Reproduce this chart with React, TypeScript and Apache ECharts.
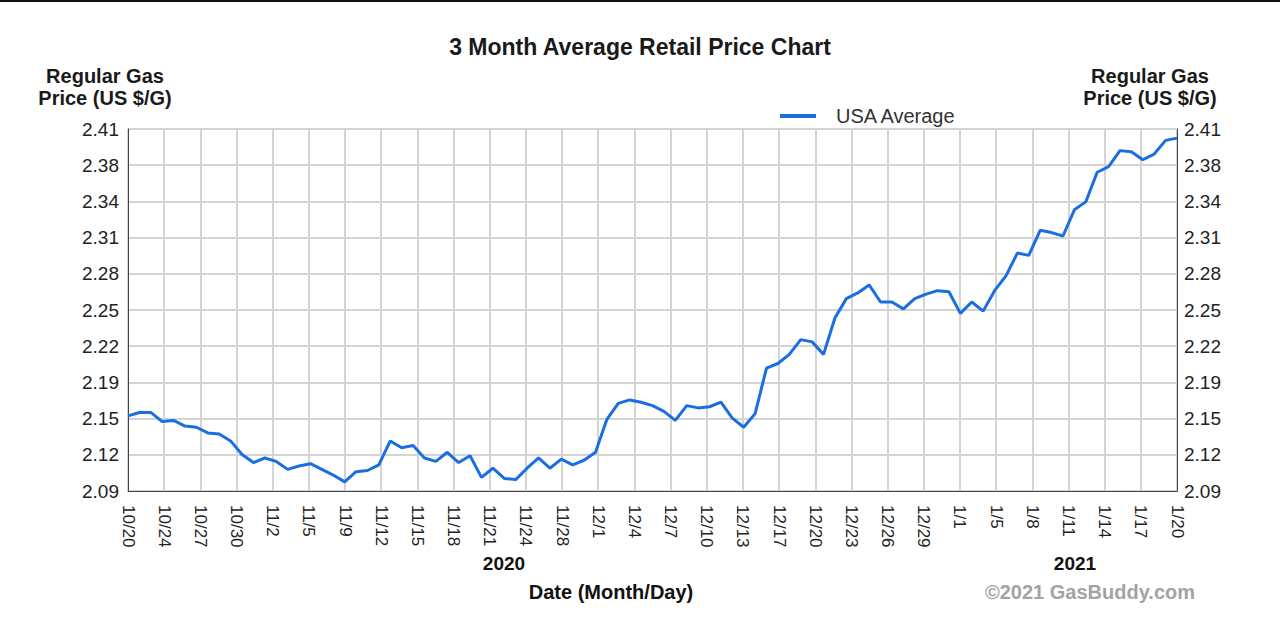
import { useEffect, useRef } from "react";
import * as echarts from "echarts";

const dates = [
  "10/20","10/21","10/22","10/23","10/24","10/25","10/26","10/27","10/28","10/29","10/30","10/31",
  "11/1","11/2","11/3","11/4","11/5","11/6","11/7","11/8","11/9","11/10","11/11","11/12","11/13","11/14","11/15",
  "11/16","11/17","11/18","11/19","11/20","11/21","11/22","11/23","11/24","11/25","11/26","11/27","11/28","11/29","11/30",
  "12/1","12/2","12/3","12/4","12/5","12/6","12/7","12/8","12/9","12/10","12/11","12/12","12/13","12/14","12/15",
  "12/16","12/17","12/18","12/19","12/20","12/21","12/22","12/23","12/24","12/25","12/26","12/27","12/28","12/29","12/30","12/31",
  "1/1","1/2","1/3","1/4","1/5","1/6","1/7","1/8","1/9","1/10","1/11","1/12","1/13","1/14","1/15","1/16","1/17","1/18","1/19","1/20",
];

const usaAverage = [
  2.156, 2.159, 2.159, 2.151, 2.152, 2.147, 2.146, 2.141, 2.140, 2.134, 2.122, 2.115,
  2.119, 2.116, 2.109, 2.112, 2.114, 2.109, 2.104, 2.098, 2.107, 2.108, 2.113, 2.134, 2.128, 2.130,
  2.119, 2.116, 2.124, 2.115, 2.121, 2.102, 2.110, 2.101, 2.100, 2.110, 2.119, 2.110, 2.118, 2.113, 2.117,
  2.124, 2.153, 2.167, 2.170, 2.168, 2.165, 2.160, 2.152, 2.165, 2.163, 2.164, 2.168, 2.154, 2.146, 2.158,
  2.198, 2.202, 2.210, 2.223, 2.221, 2.210, 2.242, 2.259, 2.264, 2.271, 2.256, 2.256, 2.250, 2.259, 2.263, 2.266, 2.265,
  2.246, 2.256, 2.248, 2.266, 2.279, 2.299, 2.297, 2.319, 2.317, 2.314, 2.337, 2.344, 2.370, 2.375, 2.389, 2.388, 2.381, 2.386, 2.398, 2.400,
];

const xTickLabels = [
  "10/20","10/24","10/27","10/30","11/2","11/5","11/9","11/12","11/15","11/18","11/21","11/24","11/28",
  "12/1","12/4","12/7","12/10","12/13","12/17","12/20","12/23","12/26","12/29",
  "1/1","1/5","1/8","1/11","1/14","1/17","1/20",
];

const yTicks = [2.09, 2.1218, 2.1536, 2.1854, 2.2172, 2.249, 2.2808, 2.3126, 2.3444, 2.3762, 2.408];

const FONT = "'Liberation Sans', Arial, sans-serif";

export default function App() {
  const ref = useRef<HTMLDivElement>(null);
  useEffect(() => {
    if (!ref.current) return;
    const chart = echarts.init(ref.current, null, { renderer: "svg" });
    const yMin = yTicks[0];
    const yMax = yTicks[yTicks.length - 1];
    const yAxisBase = (pos: "left" | "right", split: boolean) => ({
      type: "value",
      position: pos,
      min: yMin,
      max: yMax,
      axisLine: { show: true, lineStyle: { color: "#444", width: 1 } },
      axisTick: { show: false, customValues: yTicks },
      axisLabel: {
        customValues: yTicks,
        formatter: (v: number) => v.toFixed(2),
        color: "#222",
        fontSize: 19,
        fontFamily: FONT,
        margin: pos === "left" ? 9 : 7,
      },
      splitLine: { show: split, lineStyle: { color: "#d4d4d4", width: 2 } },
    });
    chart.setOption({
      animation: false,
      backgroundColor: "#fff",
      textStyle: { fontFamily: FONT },
      title: {
        text: "3 Month Average Retail Price Chart",
        left: "center",
        top: 30,
        textStyle: { fontSize: 23, fontWeight: "bold", color: "#1a1a1a", fontFamily: FONT },
      },
      legend: {
        left: 775,
        top: 101,
        icon: "rect",
        itemWidth: 36,
        itemHeight: 4,
        textStyle: { fontSize: 20, color: "#333", fontFamily: FONT, padding: [0, 0, 0, 15] },
        data: ["USA Average"],
      },
      grid: {
        left: 128,
        right: 103,
        top: 129,
        bottom: 149,
        show: true,
        borderColor: "#444",
        borderWidth: 1,
        containLabel: false,
      },
      xAxis: [
        {
          type: "category",
          data: dates,
          boundaryGap: false,
          position: "top",
          show: false,
        },
        {
          type: "category",
          data: xTickLabels,
          boundaryGap: false,
          position: "bottom",
          axisLine: { show: true, lineStyle: { color: "#444", width: 1 } },
          axisTick: { show: false },
          axisLabel: {
            interval: 0,
            rotate: -90,
            color: "#222",
            fontSize: 17,
            fontFamily: FONT,
            margin: 14,
          },
          splitLine: { show: true, interval: 0, lineStyle: { color: "#d4d4d4", width: 2 } },
        },
      ],
      yAxis: [yAxisBase("left", true), yAxisBase("right", false)],
      series: [
        {
          name: "USA Average",
          type: "line",
          xAxisIndex: 0,
          yAxisIndex: 0,
          data: usaAverage,
          showSymbol: false,
          symbol: "none",
          lineStyle: { color: "#1b6ee0", width: 3 },
          itemStyle: { color: "#1b6ee0" },
        },
      ],
      graphic: [
        { type: "rect", left: 0, top: 0, shape: { width: 1280, height: 2 }, style: { fill: "#111" } },
        {
          type: "text",
          x: 105,
          y: 87,
          style: {
            text: "Regular Gas\nPrice (US $/G)",
            fill: "#1a1a1a",
            font: `bold 20px ${FONT}`,
            align: "center",
            verticalAlign: "middle",
            lineHeight: 22,
          },
        },
        {
          type: "text",
          x: 1150,
          y: 87,
          style: {
            text: "Regular Gas\nPrice (US $/G)",
            fill: "#1a1a1a",
            font: `bold 20px ${FONT}`,
            align: "center",
            verticalAlign: "middle",
            lineHeight: 22,
          },
        },
        {
          type: "text",
          x: 504,
          y: 563,
          style: { text: "2020", fill: "#111", font: `bold 19px ${FONT}`, align: "center", verticalAlign: "middle" },
        },
        {
          type: "text",
          x: 1075,
          y: 563,
          style: { text: "2021", fill: "#111", font: `bold 19px ${FONT}`, align: "center", verticalAlign: "middle" },
        },
        {
          type: "text",
          x: 611,
          y: 592,
          style: { text: "Date (Month/Day)", fill: "#111", font: `bold 20px ${FONT}`, align: "center", verticalAlign: "middle" },
        },
        {
          type: "text",
          x: 1090,
          y: 592,
          style: { text: "©2021 GasBuddy.com", fill: "#a3a3a3", font: `bold 20px ${FONT}`, align: "center", verticalAlign: "middle" },
        },
      ],
    });
    return () => chart.dispose();
  }, []);
  return (
    <div
      ref={ref}
      style={{ position: "fixed", left: 0, top: 0, width: 1280, height: 640 }}
    />
  );
}
